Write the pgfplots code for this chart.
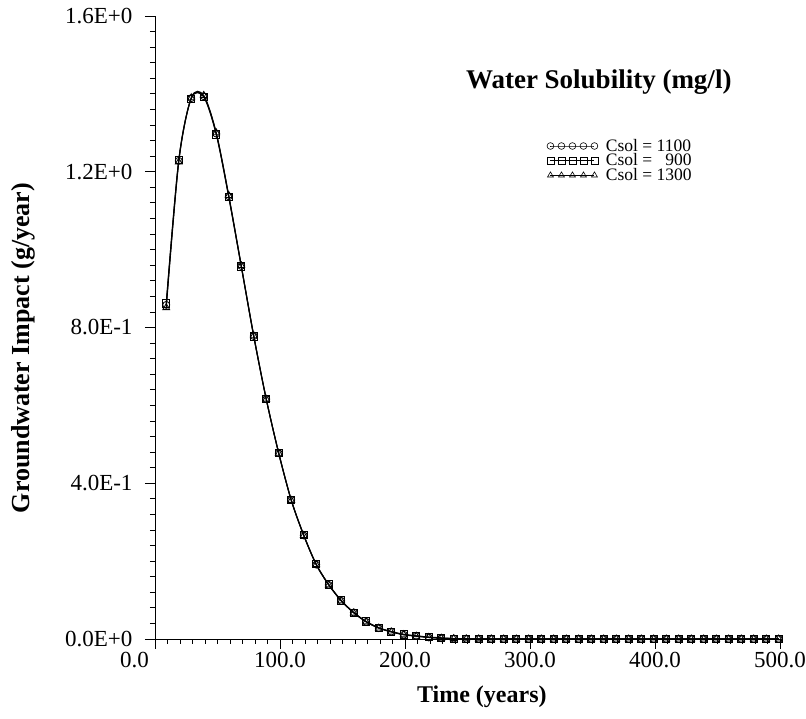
\documentclass[border=0pt]{standalone}
\usepackage{fontspec}
\setmainfont{Liberation Serif}
\usepackage{pgfplots}
\usepackage{pgfplotstable}
\pgfplotsset{compat=1.18}

% time (years), impact (g/year) for the three solubilities
\pgfplotstableread{
t    c1100   c900    c1300
9    0.858   0.862   0.851
19   1.228   1.230   1.225
29   1.389   1.388   1.390
39   1.394   1.392   1.396
49   1.298   1.296   1.300
59   1.137   1.135   1.139
69   0.958   0.957   0.959
79   0.778   0.777   0.779
89   0.616   0.616   0.616
99   0.477   0.477   0.477
109  0.357   0.357   0.356
119  0.266   0.267   0.266
129  0.191   0.192   0.191
139  0.139   0.140   0.139
149  0.098   0.099   0.098
159  0.068   0.068   0.067
169  0.044   0.045   0.044
179  0.028   0.029   0.028
189  0.019   0.019   0.018
199  0.011   0.012   0.011
209  0.008   0.008   0.007
219  0.004   0.005   0.004
229  0.002   0.003   0.002
239  0.001   0.001   0.001
249  0.0005  0.0006  0.0005
259  0.0003  0.0003  0.0003
269  0.0002  0.0002  0.0002
279  0.0001  0.0001  0.0001
289  0.0001  0.0001  0.0001
299  0       0       0
309  0       0       0
319  0       0       0
329  0       0       0
339  0       0       0
349  0       0       0
359  0       0       0
369  0       0       0
379  0       0       0
389  0       0       0
399  0       0       0
409  0       0       0
419  0       0       0
429  0       0       0
439  0       0       0
449  0       0       0
459  0       0       0
469  0       0       0
479  0       0       0
489  0       0       0
499  0       0       0
}\datatable

\pgfplotsset{
  fivemarks/.style={
    legend image code/.code={
      \draw[##1, line width=0.6pt, mark size=3.4pt, mark options={line width=0.6pt}]
        plot coordinates {(0pt,0pt) (11pt,0pt) (22pt,0pt) (33pt,0pt) (44pt,0pt)};
      \path[draw=none] (-4pt,0pt) -- (54pt,0pt);
    }
  }
}

\begin{document}
\begin{tikzpicture}
  \path[use as bounding box] (-155pt,-80pt) rectangle (651pt,639pt);
  \begin{axis}[
    scale only axis,
    width=625pt, height=623pt,
    xmin=0, xmax=500, ymin=0, ymax=1.6,
    axis x line*=bottom, axis y line*=left,
    axis line style={line width=0.9pt},
    tick align=outside,
    major tick length=10pt, minor tick length=5pt,
    tick style={black, line width=0.8pt},
    xtick={0,100,200,300,400,500},
    xticklabels={\makebox[0pt][r]{0.0\hspace{6pt}},100.0,200.0,300.0,400.0,500.0},
    ytick={0,0.4,0.8,1.2,1.6},
    yticklabels={0.0E+0,4.0E-1,8.0E-1,1.2E+0,1.6E+0},
    minor x tick num=9, minor y tick num=9,
    ticklabel style={font=\fontsize{23}{23}\selectfont},
    yticklabel style={xshift=-9pt},
    xlabel={Time (years)},
    ylabel={Groundwater Impact (g/year)},
    xlabel style={font=\fontsize{24}{24}\selectfont\bfseries,
      at={(axis description cs:0.523,0)}, anchor=center, yshift=-58pt},
    ylabel style={font=\fontsize{26}{26}\selectfont\bfseries,
      at={(axis description cs:-0.2112,0.467)}, anchor=center},
    legend style={draw=none, fill=none, at={(axis description cs:0.626,0.805)}, anchor=north west,
      font=\fontsize{17.5}{15}\selectfont, row sep=-2pt, inner sep=0pt,
      nodes={inner sep=1.5pt}},
    legend cell align=left,
    every axis plot/.append style={black, line width=1.1pt, smooth, fivemarks},
  ]
    \addplot[mark=o, mark size=3.5pt, mark options={solid, line width=0.8pt}] table[x=t, y=c1100] {\datatable};
    \addlegendentry{Csol = 1100}
    \addplot[mark=square, mark size=3.6pt, mark options={solid, line width=0.8pt}] table[x=t, y=c900] {\datatable};
    \addlegendentry{Csol = \phantom{1}900}
    \addplot[mark=triangle, mark size=4pt, mark options={solid, line width=0.8pt}] table[x=t, y=c1300] {\datatable};
    \addlegendentry{Csol = 1300}
    \node[font=\fontsize{27}{27}\selectfont\bfseries] at (axis description cs:0.710,0.894) {Water Solubility (mg/l)};
  \end{axis}
\end{tikzpicture}
\end{document}
